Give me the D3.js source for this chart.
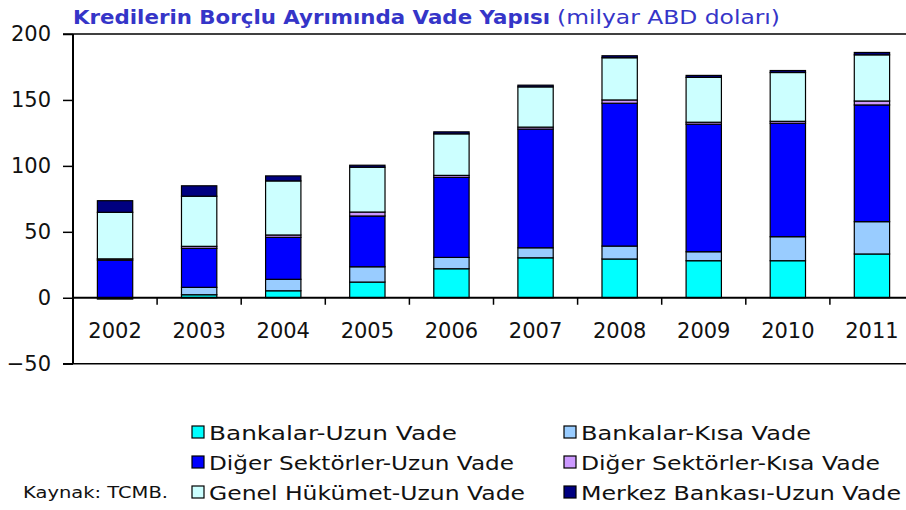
<!DOCTYPE html>
<html><head><meta charset="utf-8">
<script src="https://cdn.jsdelivr.net/npm/d3@7"></script>
<style>
body{margin:0;background:#fff;}
svg{display:block;font-family:"DejaVu Sans",sans-serif;}
</style></head>
<body><svg id="c" width="906" height="510"></svg>
<script>
const years = ["2002","2003","2004","2005","2006","2007","2008","2009","2010","2011"];
const bankalarUzun = [0, 2.3, 5.3, 11.9, 22, 30.3, 29.4, 28.1, 28.1, 33.2];
const bankalarKisa = [-1, 5.6, 8.7, 11.6, 8.6, 7.6, 9.8, 6.8, 18.2, 24.5];
const digerUzun = [28.5, 29.6, 31.8, 38.5, 60.7, 90, 108.3, 96.7, 86, 88.5];
const digerKisa = [1, 1.5, 1.8, 3, 1.5, 1.5, 2.5, 1.5, 1.5, 3];
const genelUzun = [35.3, 38, 41, 34, 31.5, 30.5, 32, 34, 37, 35];
const merkezUzun = [8.8, 7.9, 3.8, 1.5, 1.5, 1.3, 1.5, 1.5, 1.5, 1.8];
const seriesNames = ["Bankalar-Uzun Vade","Bankalar-Kısa Vade","Diğer Sektörler-Uzun Vade","Diğer Sektörler-Kısa Vade","Genel Hükümet-Uzun Vade","Merkez Bankası-Uzun Vade"];
const seriesValues = [bankalarUzun, bankalarKisa, digerUzun, digerKisa, genelUzun, merkezUzun];
const yTicks = [-50, 0, 50, 100, 150, 200];

// styling / layout (not data)
const colors = ["#00FFFF","#99CCFF","#0000FF","#CC99FF","#CCFFFF","#000080"];
const legendTextWidths = [248, 230, 305, 299, 316, 320];

const svg = d3.select("#c");
const x = d3.scaleBand().domain(years).range([73, 914]).paddingInner(0.58).paddingOuter(0.29);
const xc = d3.scaleBand().domain(years).range([73, 914]);
const y = d3.scaleLinear().domain([-50, 200]).range([363.7, 34]);

const table = years.map((yr, i) => {
  const o = {year: yr};
  seriesNames.forEach((s, j) => o[s] = seriesValues[j][i]);
  return o;
});
const stacked = d3.stack().keys(seriesNames).offset(d3.stackOffsetDiverging)(table);

// top and bottom frame lines
svg.append("line").attr("x1", 63).attr("x2", 906).attr("y1", y(200)).attr("y2", y(200)).attr("stroke", "#000").attr("stroke-width", 1.5);
svg.append("line").attr("x1", 63).attr("x2", 906).attr("y1", y(-50)).attr("y2", y(-50)).attr("stroke", "#000").attr("stroke-width", 1.5);

// bars
stacked.forEach((layer, j) => {
  svg.append("g").selectAll("rect").data(layer).join("rect")
    .attr("x", d => x(d.data.year))
    .attr("width", x.bandwidth())
    .attr("y", d => y(Math.max(d[0], d[1])))
    .attr("height", d => Math.abs(y(d[0]) - y(d[1])))
    .attr("fill", colors[j])
    .attr("stroke", "#000").attr("stroke-width", 1.2);
});

// y axis
const yAxis = d3.axisLeft(y).tickValues(yTicks).tickSize(10).tickPadding(12).tickFormat(d3.format("d"));
const ga = svg.append("g").attr("transform", "translate(73,0)").call(yAxis);
ga.select(".domain").attr("stroke", "#000").attr("stroke-width", 2).attr("d", `M0,${y(200)}V${y(-50)}`);
ga.selectAll(".tick line").attr("stroke", "#000").attr("stroke-width", 1.5);
ga.selectAll(".tick text").attr("font-size", 21).attr("fill", "#111").attr("font-family", "DejaVu Sans");

// x axis at zero
const xAxis = d3.axisBottom(xc).tickSize(0).tickPadding(25);
const gx = svg.append("g").attr("transform", `translate(0,${y(0)})`).call(xAxis);
gx.select(".domain").attr("stroke", "#000").attr("stroke-width", 2).attr("d", `M73,0H914`);
gx.selectAll(".tick text").attr("font-size", 21).attr("fill", "#111").attr("font-family", "DejaVu Sans");
// category separator ticks
svg.append("g").selectAll("line").data(years.slice(1)).join("line")
  .attr("x1", d => xc(d)).attr("x2", d => xc(d))
  .attr("y1", y(0)).attr("y2", y(0) + 7)
  .attr("stroke", "#000").attr("stroke-width", 1.5);

// title
svg.append("text").attr("x", 73).attr("y", 24).attr("font-size", 20).attr("font-weight", "bold")
  .attr("fill", "#3535C8").attr("textLength", 477).attr("lengthAdjust", "spacingAndGlyphs")
  .text("Kredilerin Borçlu Ayrımında Vade Yapısı");
svg.append("text").attr("x", 557).attr("y", 24).attr("font-size", 20)
  .attr("fill", "#3535C8").attr("textLength", 223).attr("lengthAdjust", "spacingAndGlyphs")
  .text("(milyar ABD doları)");

// legend
const legX = [192, 564];
const legY = [432, 462, 492];
seriesNames.forEach((s, j) => {
  const gx0 = legX[j % 2], gy0 = legY[Math.floor(j / 2)];
  svg.append("rect").attr("x", gx0).attr("y", gy0 - 6).attr("width", 12).attr("height", 12)
    .attr("fill", colors[j]).attr("stroke", "#000").attr("stroke-width", 1.2);
  svg.append("text").attr("x", gx0 + 17).attr("y", gy0 + 7.5).attr("font-size", 20).attr("fill", "#111")
    .attr("textLength", legendTextWidths[j]).attr("lengthAdjust", "spacingAndGlyphs").text(s);
});
svg.append("text").attr("x", 23).attr("y", 498).attr("font-size", 15).attr("fill", "#111")
  .attr("textLength", 145).attr("lengthAdjust", "spacingAndGlyphs").text("Kaynak: TCMB.");
</script></body></html>
